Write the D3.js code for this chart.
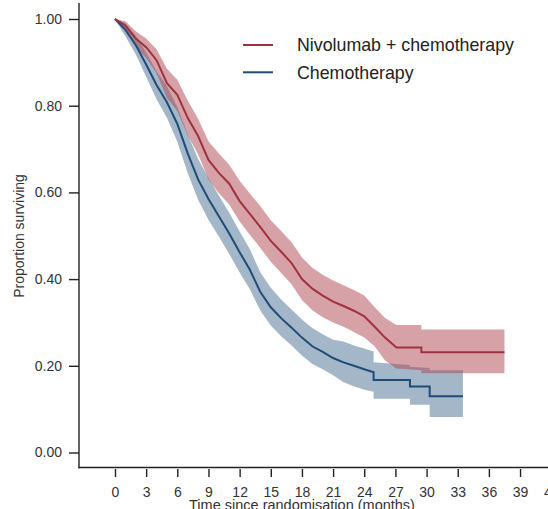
<!DOCTYPE html>
<html>
<head>
<meta charset="utf-8">
<script src="https://cdn.jsdelivr.net/npm/d3@7"></script>
<style>
  body { margin: 0; background: #fff; }
  svg { display: block; font-family: "Liberation Sans", Arial, sans-serif; }
</style>
</head>
<body>
<div id="chart"></div>
<script>
// Kaplan-Meier estimates (months, survival)
// explicit repeated times mark the visible drops in the tails
var nivoTime  = [0, 1, 2, 3, 4, 5, 6, 7, 8, 9, 10, 11, 12, 13, 14, 15, 16, 17, 18, 19, 20, 21, 22, 23, 24, 25, 26, 27.1, 29.5, 29.5, 37.5];
var nivoSurv  = [1.00, 0.985, 0.955, 0.935, 0.905, 0.852, 0.825, 0.772, 0.73, 0.675, 0.645, 0.62, 0.58, 0.55, 0.52, 0.488, 0.463, 0.437, 0.40, 0.378, 0.362, 0.348, 0.338, 0.327, 0.314, 0.29, 0.265, 0.242, 0.242, 0.231, 0.231];
var nivoLower = [1.00, 0.975, 0.935, 0.91, 0.875, 0.818, 0.788, 0.732, 0.688, 0.63, 0.598, 0.572, 0.533, 0.502, 0.472, 0.44, 0.414, 0.388, 0.352, 0.328, 0.312, 0.30, 0.29, 0.278, 0.265, 0.245, 0.212, 0.194, 0.19, 0.183, 0.183];
var nivoUpper = [1.00, 0.995, 0.972, 0.955, 0.93, 0.885, 0.86, 0.812, 0.77, 0.718, 0.69, 0.664, 0.627, 0.597, 0.568, 0.536, 0.511, 0.485, 0.45, 0.426, 0.41, 0.397, 0.386, 0.375, 0.362, 0.335, 0.31, 0.294, 0.294, 0.284, 0.284];

var chemoTime  = [0, 1, 2, 3, 4, 5, 6, 7, 8, 9, 10, 11, 12, 13, 14, 15, 16, 17, 18, 19, 20, 21, 22, 23, 24, 24.9, 24.9, 28.4, 28.4, 30.3, 30.3, 33.5];
var chemoSurv  = [1.00, 0.975, 0.94, 0.895, 0.848, 0.808, 0.758, 0.69, 0.63, 0.585, 0.545, 0.505, 0.462, 0.421, 0.37, 0.335, 0.31, 0.288, 0.265, 0.245, 0.232, 0.218, 0.208, 0.20, 0.192, 0.185, 0.167, 0.167, 0.152, 0.152, 0.13, 0.13];
var chemoLower = [1.00, 0.96, 0.918, 0.867, 0.815, 0.772, 0.717, 0.645, 0.583, 0.537, 0.498, 0.458, 0.415, 0.376, 0.327, 0.293, 0.268, 0.247, 0.224, 0.204, 0.192, 0.178, 0.162, 0.153, 0.145, 0.14, 0.124, 0.124, 0.11, 0.11, 0.082, 0.082];
var chemoUpper = [1.00, 0.99, 0.962, 0.923, 0.88, 0.845, 0.797, 0.735, 0.677, 0.633, 0.593, 0.553, 0.51, 0.468, 0.415, 0.38, 0.353, 0.33, 0.307, 0.287, 0.273, 0.26, 0.256, 0.247, 0.24, 0.233, 0.208, 0.202, 0.198, 0.195, 0.19, 0.19];

var xTicks = [0, 3, 6, 9, 12, 15, 18, 21, 24, 27, 30, 33, 36, 39, 42];
var yTicks = [0, 0.2, 0.4, 0.6, 0.8, 1.0];
var seriesNames = ["Nivolumab + chemotherapy", "Chemotherapy"];

var width = 548, height = 509;
var redLine = "#a1313c", redFill = "#ad4551";
var blueLine = "#1f4b78", blueFill = "#476f93";

var svg = d3.select("#chart").append("svg")
    .attr("width", width)
    .attr("height", height);

var x = d3.scaleLinear().domain([0, 42]).range([115, 551.2]);
var y = d3.scaleLinear().domain([0, 1]).range([452.5, 19]);

function rows(t, s, lo, hi) {
  return t.map(function(d, i) { return { t: d, s: s[i], lo: lo[i], hi: hi[i] }; });
}
var nivo = rows(nivoTime, nivoSurv, nivoLower, nivoUpper);
var chemo = rows(chemoTime, chemoSurv, chemoLower, chemoUpper);

var area = d3.area()
    .x(function(d) { return x(d.t); })
    .y0(function(d) { return y(d.lo); })
    .y1(function(d) { return y(d.hi); });
var line = d3.line()
    .x(function(d) { return x(d.t); })
    .y(function(d) { return y(d.s); });

svg.append("path").datum(chemo).attr("d", area)
    .attr("fill", blueFill).attr("fill-opacity", 0.5);
svg.append("path").datum(nivo).attr("d", area)
    .attr("fill", redFill).attr("fill-opacity", 0.5);
svg.append("path").datum(chemo).attr("d", line)
    .attr("fill", "none").attr("stroke", blueLine).attr("stroke-width", 2);
svg.append("path").datum(nivo).attr("d", line)
    .attr("fill", "none").attr("stroke", redLine).attr("stroke-width", 2);

// axes
var axisColor = "#222";
var yAxis = svg.append("g")
    .attr("transform", "translate(79,0)")
    .call(d3.axisLeft(y).tickValues(yTicks).tickFormat(d3.format(".2f"))
      .tickSize(10).tickPadding(7).tickSizeOuter(0));
var xAxis = svg.append("g")
    .attr("transform", "translate(0,469)")
    .call(d3.axisBottom(x).tickValues(xTicks).tickSize(8).tickPadding(10).tickSizeOuter(0));

[yAxis, xAxis].forEach(function(g) {
  g.select(".domain").remove();
  g.selectAll("line").attr("stroke", axisColor).attr("stroke-width", 1.4);
  g.selectAll("text").attr("fill", "#333").style("font-size", "14px")
    .style("font-family", "'Liberation Sans', Arial, sans-serif");
});

svg.append("line").attr("x1", 79).attr("x2", 79).attr("y1", 3).attr("y2", 468.2)
    .attr("stroke", axisColor).attr("stroke-width", 1.4);
svg.append("line").attr("x1", 78.3).attr("x2", width).attr("y1", 467.5).attr("y2", 467.5)
    .attr("stroke", axisColor).attr("stroke-width", 1.4);

svg.append("text")
    .attr("x", 302).attr("y", 510)
    .attr("text-anchor", "middle")
    .attr("fill", "#333").style("font-size", "14.5px")
    .text("Time since randomisation (months)");

svg.append("text")
    .attr("transform", "translate(24,236) rotate(-90)")
    .attr("text-anchor", "middle")
    .attr("fill", "#333").style("font-size", "14px")
    .text("Proportion surviving");

// legend
var legend = svg.append("g");
[redLine, blueLine].forEach(function(c, i) {
  var ly = 45 + i * 27.3;
  legend.append("line").attr("x1", 243).attr("x2", 273).attr("y1", ly).attr("y2", ly)
      .attr("stroke", c).attr("stroke-width", 2);
  legend.append("text").attr("x", 297).attr("y", ly + 6.3)
      .attr("fill", "#222").style("font-size", "17.8px")
      .text(seriesNames[i]);
});
</script>
</body>
</html>
